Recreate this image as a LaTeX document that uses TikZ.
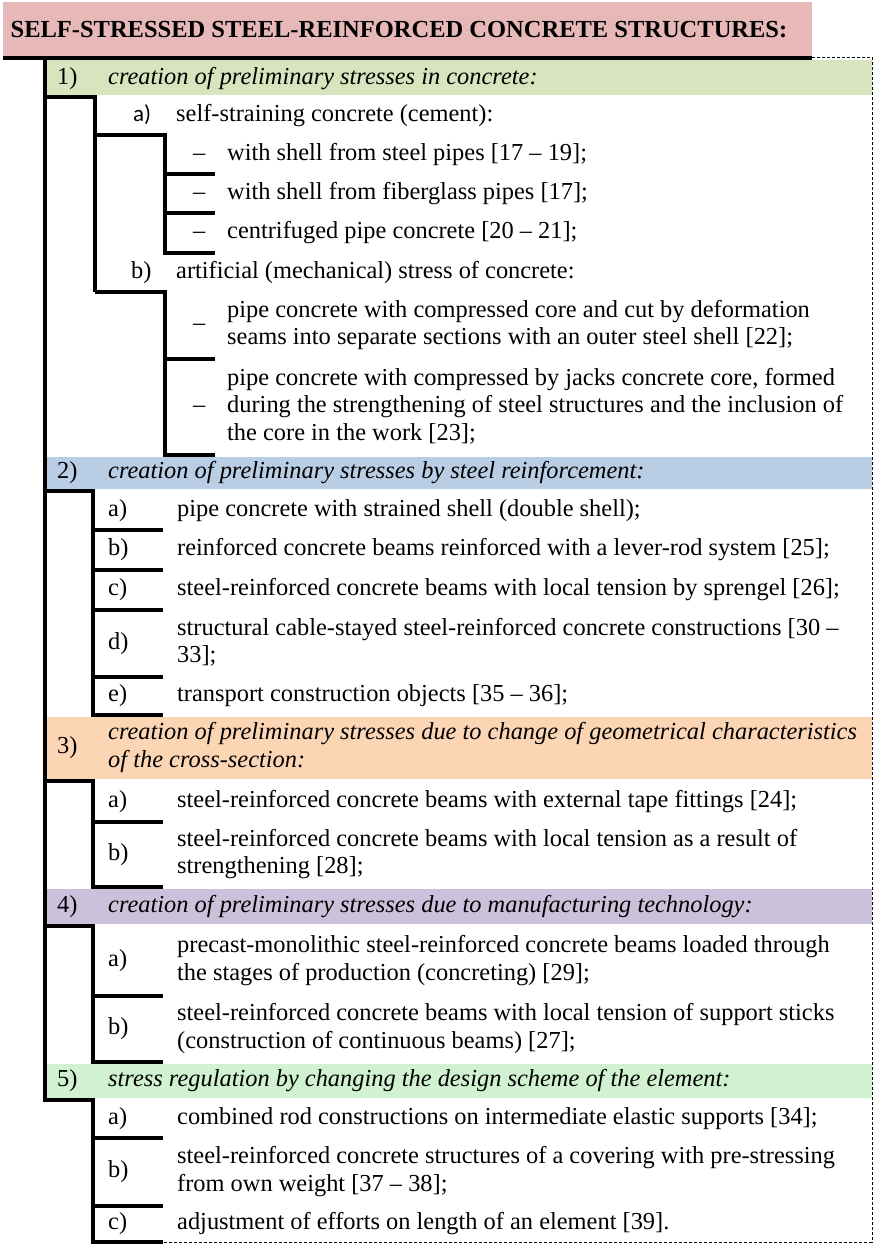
\documentclass[tikz,border=0pt]{standalone}
\usepackage{fontspec}
\setmainfont{Liberation Serif}
\newfontfamily\labelsans{Carlito}
\definecolor{titlepink}{RGB}{230,184,183}
\definecolor{grpone}{RGB}{215,228,189}
\definecolor{grptwo}{RGB}{185,205,229}
\definecolor{grpthree}{RGB}{252,213,181}
\definecolor{grpfour}{RGB}{204,193,218}
\definecolor{grpfive}{RGB}{208,242,208}
% a strut giving every line the same height and depth
\newcommand\lnstrut{\rule[-6pt]{0pt}{23pt}}
\newcommand\nl{\\\lnstrut}
\begin{document}
\begin{tikzpicture}[x=1pt,y=-1pt,
  txt/.style={anchor=west, inner sep=0pt, align=left,
    font=\fontsize{24.4pt}{27.5pt}\selectfont, execute at begin node=\lnstrut},
  hdr/.style={txt, font=\fontsize{24.4pt}{27.5pt}\selectfont\itshape},
  lbl/.style={txt},
  bar/.style={line width=4pt, line join=miter, line cap=butt},
  edge/.style={line width=1pt, densely dashed}
]
\useasboundingbox (0,0) rectangle (874,1245);

% coloured bands
\fill[titlepink] (3,2) rectangle (812,56);
\fill[grpone]   (47,60)   rectangle (872,95);
\fill[grptwo]   (47,457)  rectangle (872,489);
\fill[grpthree] (47,717)  rectangle (872,779);
\fill[grpfour]  (47,889)  rectangle (872,924);
\fill[grpfive]  (47,1064) rectangle (872,1098);

% title
\node[inner sep=0pt, font=\fontsize{24.5pt}{27.5pt}\selectfont\bfseries] (title) at (399,30)
  {SELF-STRESSED STEEL-REINFORCED CONCRETE STRUCTURES:};

% outer frame
\draw[bar] (3,58) -- (812,58);
\draw[edge] (812,57) -- (872,57) -- (872,1242) -- (163,1242);
\draw[bar] (45,58) -- (45,1100) -- (93,1100) -- (93,1242) -- (163,1242);

% group 1 brackets
\draw[bar] (45,97) -- (95,97) -- (95,292);
\draw[bar] (95,135) -- (165,135) -- (165,253) -- (215,253);
\draw[bar] (165,174) -- (215,174);
\draw[bar] (165,213) -- (215,213);
\draw[bar] (95,292) -- (165,292) -- (165,455) -- (215,455);
\draw[bar] (165,359) -- (215,359);

% group 2 brackets
\draw[bar] (45,491) -- (93,491) -- (93,715) -- (163,715);
\foreach \yy in {530,570,610,677} \draw[bar] (93,\yy) -- (163,\yy);

% group 3 brackets
\draw[bar] (45,781) -- (93,781) -- (93,887) -- (163,887);
\draw[bar] (93,822) -- (163,822);

% group 4 brackets
\draw[bar] (45,926) -- (93,926) -- (93,1062) -- (163,1062);
\draw[bar] (93,996) -- (163,996);

% group 5 ticks
\draw[bar] (93,1138) -- (163,1138);
\draw[bar] (93,1206) -- (163,1206);

% group 1
\node[lbl] (n1) at (57,78.5) {1)};
\node[hdr] (h1) at (108,78.5) {creation of preliminary stresses in concrete:};
\node[lbl, font=\fontsize{23pt}{27.5pt}\labelsans] (n1a) at (133,116) {a)};
\node[txt] (t1a) at (176,116) {self-straining concrete (cement):};
\node[lbl] (d1) at (193,154.5) {–};
\node[txt] (t1a1) at (227,154.5) {with shell from steel pipes [17 – 19];};
\node[lbl] (d2) at (193,193.5) {–};
\node[txt] (t1a2) at (227,193.5) {with shell from fiberglass pipes [17];};
\node[lbl] (d3) at (193,233) {–};
\node[txt] (t1a3) at (227,233) {centrifuged pipe concrete [20 – 21];};
\node[lbl] (n1b) at (131,272.5) {b)};
\node[txt] (t1b) at (176,272.5) {artificial (mechanical) stress of concrete:};
\node[lbl] (d4) at (193,325) {–};
\node[txt] (t1b1) at (227,325.5) {pipe concrete with compressed core and cut by deformation\nl seams into separate sections with an outer steel shell [22];};
\node[lbl] (d5) at (193,407) {–};
\node[txt] (t1b2) at (227,407) {pipe concrete with compressed by jacks concrete core, formed\nl during the strengthening of steel structures and the inclusion of\nl the core in the work [23];};

% group 2
\node[lbl] (n2) at (57,473) {2)};
\node[hdr] (h2) at (108,473) {creation of preliminary stresses by steel reinforcement:};
\node[lbl] (n2a) at (108,510.5) {a)};
\node[txt] (t2a) at (177,510.5) {pipe concrete with strained shell (double shell);};
\node[lbl] (n2b) at (108,550) {b)};
\node[txt] (t2b) at (177,550) {reinforced concrete beams reinforced with a lever-rod system [25];};
\node[lbl] (n2c) at (108,590) {c)};
\node[txt] (t2c) at (177,590) {steel-reinforced concrete beams with local tension by sprengel [26];};
\node[lbl] (n2d) at (108,643.5) {d)};
\node[txt] (t2d) at (177,643.5) {structural cable-stayed steel-reinforced concrete constructions [30 –\nl 33];};
\node[lbl] (n2e) at (108,696) {e)};
\node[txt] (t2e) at (177,696) {transport construction objects [35 – 36];};

% group 3
\node[lbl] (n3) at (57,748) {3)};
\node[hdr] (h3) at (108,748) {creation of preliminary stresses due to change of geometrical characteristics\nl of the cross-section:};
\node[lbl] (n3a) at (108,801.5) {a)};
\node[txt] (t3a) at (177,801.5) {steel-reinforced concrete beams with external tape fittings [24];};
\node[lbl] (n3b) at (108,854.5) {b)};
\node[txt] (t3b) at (177,854.5) {steel-reinforced concrete beams with local tension as a result of\nl strengthening [28];};

% group 4
\node[lbl] (n4) at (57,906.5) {4)};
\node[hdr] (h4) at (108,906.5) {creation of preliminary stresses due to manufacturing technology:};
\node[lbl] (n4a) at (108,961) {a)};
\node[txt] (t4a) at (177,961) {precast-monolithic steel-reinforced concrete beams loaded through\nl the stages of production (concreting) [29];};
\node[lbl] (n4b) at (108,1029) {b)};
\node[txt] (t4b) at (177,1029) {steel-reinforced concrete beams with local tension of support sticks\nl (construction of continuous beams) [27];};

% group 5
\node[lbl] (n5) at (57,1081) {5)};
\node[hdr] (h5) at (108,1081) {stress regulation by changing the design scheme of the element:};
\node[lbl] (n5a) at (108,1119) {a)};
\node[txt] (t5a) at (177,1119) {combined rod constructions on intermediate elastic supports [34];};
\node[lbl] (n5b) at (108,1172) {b)};
\node[txt] (t5b) at (177,1172) {steel-reinforced concrete structures of a covering with pre-stressing\nl from own weight [37 – 38];};
\node[lbl] (n5c) at (108,1224) {c)};
\node[txt] (t5c) at (177,1224) {adjustment of efforts on length of an element [39].};
\end{tikzpicture}
\end{document}
